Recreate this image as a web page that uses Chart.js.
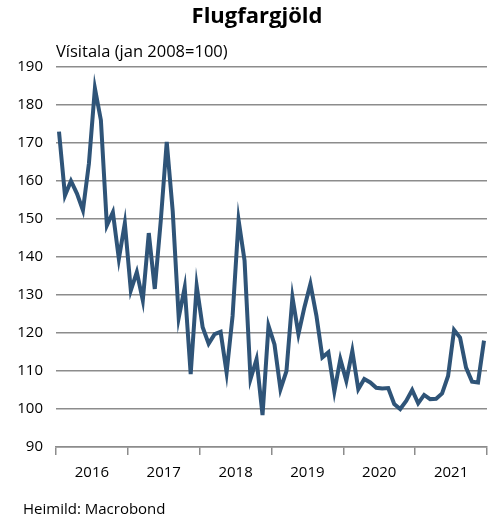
<!DOCTYPE html>
<html>
<head>
<meta charset="utf-8">
<script src="https://cdn.jsdelivr.net/npm/chart.js@4.4.1/dist/chart.umd.min.js"></script>
<style>
  html, body { margin: 0; padding: 0; background: #fff; }
  #wrap { width: 496px; height: 519px; position: relative; }
</style>
</head>
<body>
<div id="wrap"><canvas id="airfare"></canvas></div>
<script>
// Flugfargjöld, vísitala (jan 2008=100), monthly Jan 2016 - Dec 2021
var years = ['2016', '2017', '2018', '2019', '2020', '2021'];
var months = [];
years.forEach(function(y) {
    for (var m = 1; m <= 12; m++) {
        months.push(y + '-' + (m < 10 ? '0' + m : m));
    }
});

var fareIndex = [
    173, 156.2, 160, 156.7, 152.3, 164.6, 184.4, 176, 148.3, 151.8, 139.5, 148.9,
    131.2, 136, 128.6, 146.3, 131.6, 149.5, 170.3, 152, 124, 132, 109.2, 132.4,
    121.5, 117.2, 119.7, 120.3, 109.6, 124.5, 149.7, 139, 107.9, 113.1, 98.4, 121.9,
    117, 105.2, 110, 129.4, 119.7, 126.8, 132.9, 124.6, 113.6, 114.9, 104.6, 113.1,
    107.4, 115.3, 105.2, 107.9, 107, 105.6, 105.4, 105.5, 101.3, 100, 102.1, 105,
    101.5, 103.7, 102.6, 102.7, 104.1, 108.7, 120.8, 118.8, 110.9, 107.2, 107, 118
];

var titleText = 'Flugfargjöld';
var unitText = 'Vísitala (jan 2008=100)';
var sourceText = 'Heimild: Macrobond';

var fontFamily = '"Open Sans", sans-serif';
var gridGray = '#8c8c8c';

// title, unit label above the plot and source line at the bottom
var extraText = {
    id: 'extraText',
    afterDraw: function(chart) {
        var ctx = chart.ctx;
        var area = chart.chartArea;
        ctx.save();
        ctx.fillStyle = '#000';
        ctx.textBaseline = 'middle';
        ctx.textAlign = 'center';
        ctx.font = 'bold 22px ' + fontFamily;
        ctx.fillText(titleText, 257, 17);
        ctx.textAlign = 'left';
        ctx.font = '16.5px ' + fontFamily;
        ctx.fillText(unitText, area.left, area.top - 15);
        ctx.font = '15px ' + fontFamily;
        ctx.fillText(sourceText, 23, chart.height - 9);
        ctx.restore();
    }
};

function yearTick(ctx) {
    if (ctx.index === undefined || ctx.index % 12 === 0) {
        return gridGray;
    }
    return 'rgba(0,0,0,0)';
}

new Chart(document.getElementById('airfare'), {
    type: 'line',
    data: {
        labels: months,
        datasets: [{
            label: 'Flugfargjöld',
            data: fareIndex,
            borderColor: '#2f5478',
            borderWidth: 4,
            pointRadius: 0,
            tension: 0,
            fill: false
        }]
    },
    options: {
        responsive: true,
        maintainAspectRatio: false,
        animation: false,
        layout: {
            padding: { left: 0, right: 9, top: 67, bottom: 36 }
        },
        plugins: {
            legend: { display: false },
            tooltip: { enabled: false },
            title: { display: false }
        },
        scales: {
            x: {
                type: 'category',
                offset: true,
                weight: 0,
                ticks: { display: false, autoSkip: false },
                grid: {
                    offset: true,
                    drawOnChartArea: false,
                    drawTicks: true,
                    tickLength: 8,
                    lineWidth: 1.5,
                    color: yearTick,
                    tickColor: yearTick
                },
                border: { display: true, color: gridGray, width: 1.5 }
            },
            x2: {
                type: 'category',
                labels: years,
                position: 'bottom',
                offset: true,
                weight: 1,
                grid: { display: false },
                border: { display: false },
                ticks: {
                    color: '#000',
                    padding: 1,
                    maxRotation: 0,
                    font: { family: fontFamily, size: 15 }
                }
            },
            y: {
                min: 90,
                max: 190,
                ticks: {
                    stepSize: 10,
                    color: '#000',
                    padding: 13,
                    font: { family: fontFamily, size: 15 }
                },
                grid: {
                    color: gridGray,
                    lineWidth: 1.5,
                    drawTicks: false
                },
                border: { display: false },
                afterFit: function(scale) {
                    scale.width = 56;
                }
            }
        }
    },
    plugins: [extraText]
});
</script>
</body>
</html>
